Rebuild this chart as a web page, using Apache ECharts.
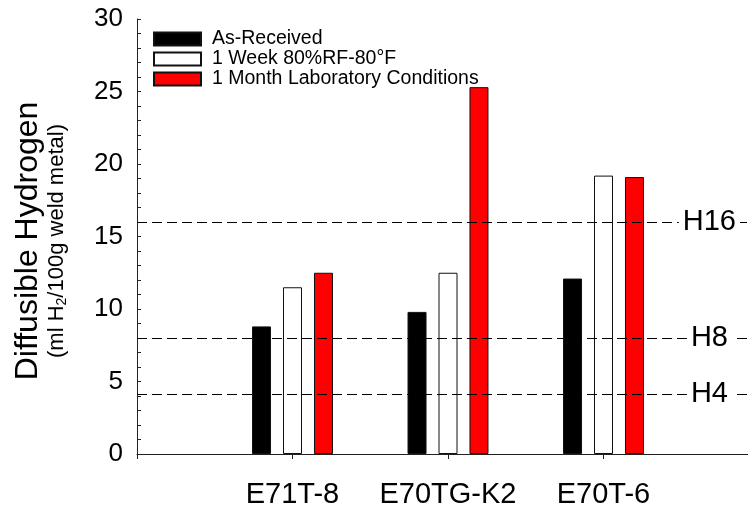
<!DOCTYPE html>
<html>
<head>
<meta charset="utf-8">
<script src="https://cdn.jsdelivr.net/npm/echarts@6/dist/echarts.min.js"></script>
<style>
  html, body { margin: 0; padding: 0; background: #fff; }
  #chart { width: 748px; height: 506px; }
</style>
</head>
<body>
<div id="chart"></div>
<script>
// Electrode classes (empty slots pad the axis at both ends)
const categories = ['', 'E71T-8', 'E70TG-K2', 'E70T-6', ''];

// Diffusible hydrogen, ml H2 / 100 g weld metal
const asReceived = ['-', 8.8, 9.8, 12.1, '-'];
const oneWeekHumid = ['-', 11.5, 12.5, 19.2, '-'];
const oneMonthLab = ['-', 12.5, 25.3, 19.1, '-'];

const seriesNames = ['As-Received', '1 Week 80%RF-80°F', '1 Month Laboratory Conditions'];

// Hydrogen designator limits
const limitValues = [16, 8, 4.15];
const limitLabels = ['H16', 'H8', 'H4'];
const limitLabelDistance = [19, 27, 27];

const yTicks = { min: 0, max: 30, interval: 5 };

const FONT = '"Liberation Sans", Arial, sans-serif';
const AXIS_COLOR = '#222';

const chart = echarts.init(document.getElementById('chart'), null, { renderer: 'canvas' });

function barSeries(name, data, fill) {
  return {
    name: name,
    type: 'bar',
    data: data,
    barWidth: 19,
    barGap: '63%',
    itemStyle: { color: fill, borderColor: '#111', borderWidth: 1 },
    emphasis: { disabled: true },
    silent: true
  };
}

const series = [
  barSeries(seriesNames[0], asReceived, '#000000'),
  barSeries(seriesNames[1], oneWeekHumid, '#ffffff'),
  barSeries(seriesNames[2], oneMonthLab, '#ff0000')
];

series[0].markLine = {
  silent: true,
  symbol: 'none',
  animation: false,
  lineStyle: { color: '#000', width: 1, type: [10, 5] },
  data: limitValues.map((v, i) => ({
    yAxis: v,
    label: {
      show: true,
      formatter: limitLabels[i],
      position: 'insideEnd',
      distance: [limitLabelDistance[i], 0],
      fontSize: 29,
      fontFamily: FONT,
      color: '#000',
      backgroundColor: '#fff',
      padding: [0, 4]
    }
  }))
};

chart.setOption({
  animation: false,
  backgroundColor: '#fff',
  grid: {
    left: 137, right: -11, top: 19, bottom: 52,
    containLabel: false,
    outerBoundsMode: 'none'
  },
  legend: {
    left: 148,
    top: 24,
    orient: 'vertical',
    itemGap: 0,
    itemWidth: 47,
    itemHeight: 13,
    icon: 'rect',
    selectedMode: false,
    textStyle: { fontSize: 19.5, lineHeight: 20, fontFamily: FONT, color: '#000', padding: [0, 0, 0, 6] },
    data: seriesNames
  },
  xAxis: {
    type: 'category',
    data: categories,
    boundaryGap: false,
    axisLine: { show: true, lineStyle: { color: AXIS_COLOR, width: 1 } },
    axisTick: { show: true, inside: false, length: 5, interval: 0, lineStyle: { color: AXIS_COLOR } },
    axisLabel: { interval: 0, fontSize: 29, fontFamily: FONT, color: '#000', margin: 26 },
    splitLine: { show: false }
  },
  yAxis: {
    type: 'value',
    min: yTicks.min,
    max: yTicks.max,
    interval: yTicks.interval,
    axisLine: { show: true, lineStyle: { color: AXIS_COLOR, width: 1 } },
    axisTick: { show: true, inside: true, length: 4, lineStyle: { color: AXIS_COLOR } },
    minorTick: { show: true, splitNumber: 5, length: 4, lineStyle: { color: AXIS_COLOR } },
    axisLabel: { fontSize: 26, fontFamily: FONT, color: '#000', margin: 14 },
    splitLine: { show: false }
  },
  graphic: [{
    type: 'text',
    x: 40,
    y: 241,
    rotation: Math.PI / 2,
    silent: true,
    style: {
      text: '{a|Diffusible Hydrogen}\n{b|(ml H}{s|2}{b|/100g weld metal)}',
      align: 'center',
      verticalAlign: 'middle',
      fill: '#000',
      rich: {
        a: { fontSize: 32, lineHeight: 34, fontFamily: FONT, fill: '#000' },
        b: { fontSize: 22, lineHeight: 24, fontFamily: FONT, fill: '#000' },
        s: { fontSize: 14, lineHeight: 13, verticalAlign: 'bottom', fontFamily: FONT, fill: '#000' }
      }
    }
  }],
  series: series
});
</script>
</body>
</html>
